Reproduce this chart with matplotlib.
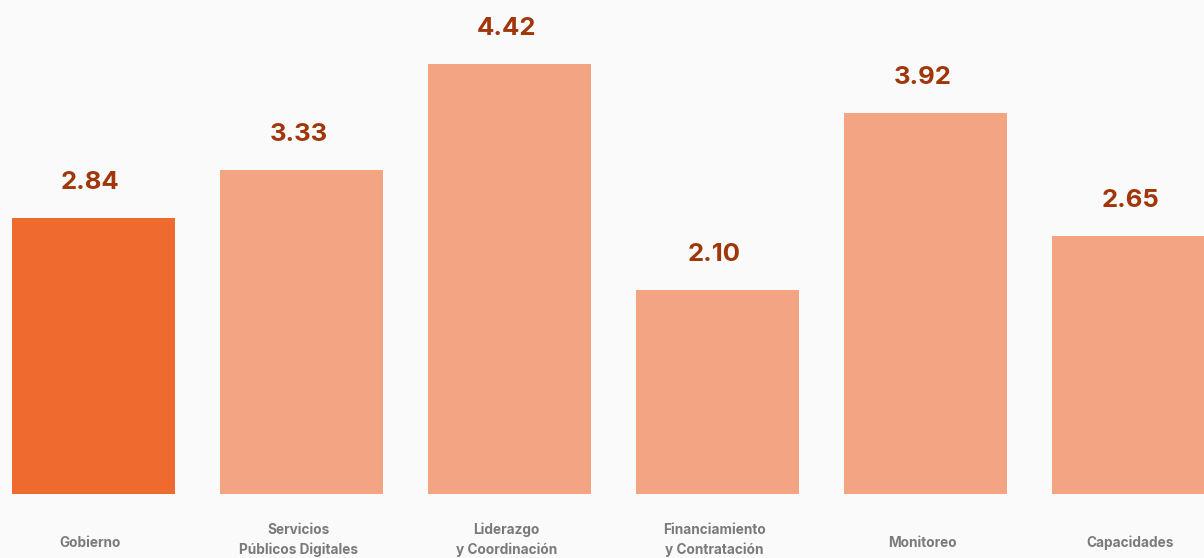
import matplotlib.pyplot as plt
import numpy as np

plt.rcParams['font.family'] = ['Inter', 'DejaVu Sans']

categories = ["Gobierno", "Servicios\nPúblicos Digitales", "Liderazgo\ny Coordinación",
              "Financiamiento\ny Contratación", "Monitoreo", "Capacidades"]
scores = [2.84, 3.33, 4.42, 2.10, 3.92, 2.65]
highlight = "Gobierno"

bg = "#fafafa"
main_color = "#ee6a2f"
other_color = "#f3a482"
label_color = "#a0360a"

fig = plt.figure(figsize=(12.04, 5.58), dpi=100, facecolor=bg)
ax = fig.add_axes([0, 64 / 558, 1, 494 / 558])
ax.set_facecolor(bg)

x = np.arange(len(categories))
colors = [main_color if c == highlight else other_color for c in categories]
ax.bar(x, scores, width=0.784, color=colors)

# scale so the tallest bar tops out ~64px below the figure top
px_per_unit = 430 / max(scores)
ax.set_ylim(0, 494 / px_per_unit)
ax.set_xlim(-93.5 / 208, (1204 - 93.5) / 208)

pt = 72 / 100  # points per pixel
for xi, v in zip(x, scores):
    ax.annotate(f"{v:.2f}", (xi, v), xytext=(-3 * pt, 29 * pt), textcoords="offset points",
                ha="center", va="baseline", fontsize=18.5, fontweight="bold",
                color=label_color)

# category names under the baseline
for xi, name in zip(x, categories):
    y_off = -46 if "\n" in name else -49
    ax.annotate(name, (xi, 0), xytext=(-3 * pt, y_off * pt),
                textcoords="offset points", ha="center", va="center",
                fontsize=9.8, fontweight="bold", color="#7a7a7a",
                linespacing=1.45)

ax.axis("off")
fig.savefig("out.png", dpi=100, facecolor=bg)
